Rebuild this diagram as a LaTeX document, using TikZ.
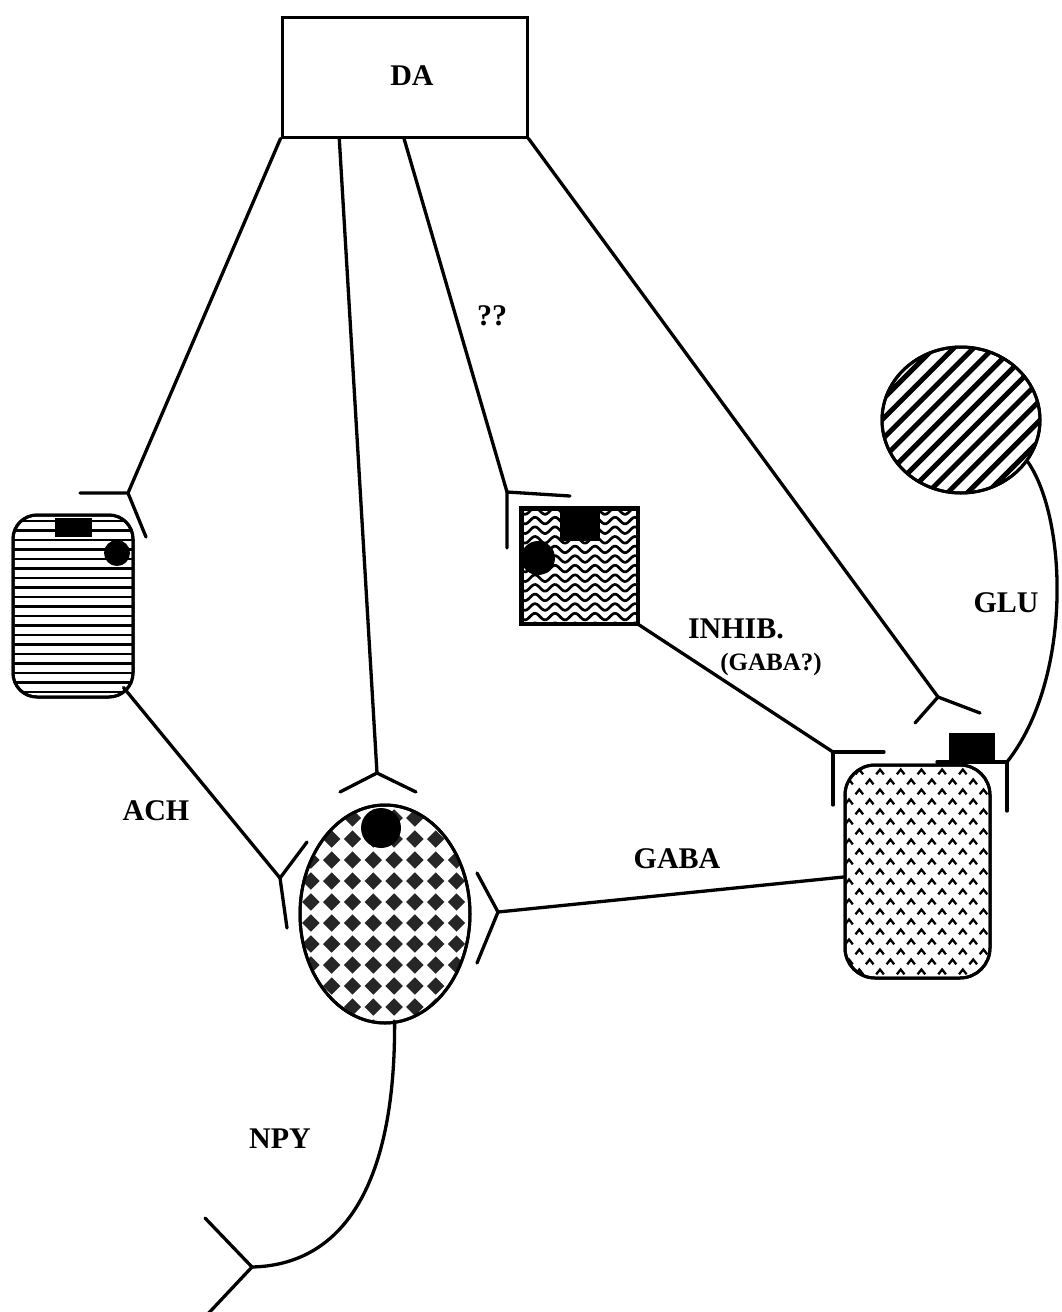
\documentclass[tikz,border=0pt]{standalone}
\usepackage{fontspec}
\setmainfont{Liberation Serif}
\usetikzlibrary{patterns.meta,calc,shapes.geometric}
\begin{document}
\begin{tikzpicture}[x=1pt,y=-1pt,
  wire/.style={line width=3.3pt, line cap=round},
  cellborder/.style={draw, line width=3pt, inner sep=0pt},
  lbl/.style={font=\fontsize{30}{34}\selectfont\bfseries, inner sep=0pt, anchor=base},
  lblsmall/.style={font=\fontsize{25}{30}\selectfont\bfseries, inner sep=0pt, anchor=base},
]
\useasboundingbox (0,0) rectangle (1061,1312);

% DA box
\node[cellborder, minimum width=245pt, minimum height=120pt] (da) at (404.5,77) {};
\node[lbl] (daL) at (412,85) {DA};

% left cell (horizontal lines)
\node[cellborder, rounded corners=24pt, minimum width=120pt, minimum height=182pt] (lc) at (73,606) {};
\begin{scope}
  \clip[rounded corners=24pt] (13,515) rectangle (133,697);
  \foreach \k in {0,...,19}
    \draw[line width=2.4pt] (10,{521+9.5*\k}) -- (140,{521+9.5*\k});
\end{scope}
\draw[line width=3pt, rounded corners=24pt] (13,515) rectangle (133,697);
\fill (55,518) rectangle (92,537);
\fill (117,553) circle[radius=13pt];

% square cell (waves)
\node[cellborder, minimum width=115pt, minimum height=114pt] (sq) at (579.5,566) {};
\begin{scope}
  \clip (sq.south west) rectangle (sq.north east);
  \foreach \k in {0,...,12}
    \draw[line width=2.7pt] plot[domain=515:645, samples=90, smooth] (\x, {511+\k*9.6+3.3*sin(18*\x)});
\end{scope}
\draw[line width=3pt] (sq.south west) rectangle (sq.north east);
\fill (560,509) rectangle (600,541);
\fill (538,558) circle[radius=17pt];

% ellipse cell (diamonds)
\node[cellborder, ellipse, minimum width=170pt, minimum height=218pt] (el) at (385,914) {};
\begin{scope}
  \clip (385,914) ellipse [x radius=85, y radius=109];
  \foreach \i in {0,...,8}
    \foreach \j in {0,...,11} {
      \pgfmathsetmacro\cx{290.1+20.8*\i}
      \pgfmathsetmacro\cy{797+21*\j}
      \fill[black!85] (\cx,\cy-8.7) -- (\cx+8.7,\cy) -- (\cx,\cy+8.7) -- (\cx-8.7,\cy) -- cycle;
    }
\end{scope}
\draw[line width=3pt] (el.center) ellipse [x radius=85, y radius=109];
\fill (381,828) circle[radius=20pt];

% right cell (chevrons)
\node[cellborder, rounded corners=30pt, minimum width=145pt, minimum height=213pt] (rc) at (917.5,871.5) {};
\begin{scope}
  \clip[rounded corners=30pt] (845,765) rectangle (990,978);
  \foreach \j in {0,...,20} {
    \pgfmathsetmacro\cy{771.7+10*\j}
    \pgfmathsetmacro\ph{mod(\j,2)==0 ? 880 : 869.7}
    \foreach \i in {-2,...,6} {
      \pgfmathsetmacro\cx{\ph+20.7*\i}
      \draw[line width=2.3pt] (\cx-3.8,\cy+2.6) -- (\cx,\cy-2.2) -- (\cx+3.8,\cy+2.6);
    }
  }
\end{scope}
\draw[line width=3pt, rounded corners=30pt] (845,765) rectangle (990,978);
\fill (949,733) rectangle (995,763);

% GLU cell (diagonal stripes)
\node[cellborder, ellipse, minimum width=158pt, minimum height=146pt] (gl) at (961,420) {};
\begin{scope}
  \clip (961,420) ellipse [x radius=79, y radius=73];
  \foreach \k in {-12,...,12}
    \draw[line width=5pt] ({961+19.8*\k-100},520) -- ({961+19.8*\k+100},320);
\end{scope}
\draw[line width=3pt] (961,420) ellipse [x radius=79, y radius=73];

% synapse points
\coordinate (s1) at (128,493);
\coordinate (s2) at (377,773);
\coordinate (s3) at (507,492);
\coordinate (s4) at (938,697);
\coordinate (s5) at (280,878);
\coordinate (s6) at (833,752);
\coordinate (s7) at (498,912);
\coordinate (s8) at (1007,762);
\coordinate (s9) at (252,1267);

% DA projections
\draw[wire] (da.south west) -- (s1);
\draw[wire] (s1) -- ++(-48,0) (s1) -- ++(18,44);
\draw[wire] ($(da.south west)!0.237!(da.south east)$) -- (s2);
\draw[wire] (s2) -- ++(-37,19) (s2) -- ++(39,19);
\draw[wire] ($(da.south west)!0.498!(da.south east)$) -- (s3);
\draw[wire] (s3) -- ++(63,4) (s3) -- ++(0,56);
\draw[wire] (da.south east) -- (s4);
\draw[wire] (s4) -- ++(-23,26) (s4) -- ++(42,16);

% ACH
\draw[wire] ($(lc.south east)+(-11,-11)$) -- (s5);
\draw[wire] (s5) -- ++(27,-36) (s5) -- ++(7,50);
% INHIB
\draw[wire] (sq.south east) -- (s6);
\draw[wire] (s6) -- ++(51,0) (s6) -- ++(0,53);
% GABA
\draw[wire] ($(rc.west)+(0,5.5)$) -- (s7);
\draw[wire] (s7) -- ++(-21,-39) (s7) -- ++(-21,51);
% GLU
\draw[wire] (gl.-32) .. controls (1068,520) and (1072,680) .. (s8);
\draw[wire] (s8) -- ++(-70,0) (s8) -- ++(0,49);
% NPY
\draw[wire] (el.-85) .. controls (395,1190) and (340,1265) .. (s9);
\draw[wire] (s9) -- ++(-47,-49) (s9) -- ++(-47,50);

% labels
\node[lbl] (qq) at (492,325) {??};
\node[lbl] (inh) at (736,638) {INHIB.};
\node[lblsmall] (gq) at (771,670) {(GABA?)};
\node[lbl] (glu) at (1006,612) {GLU};
\node[lbl] (ach) at (156,820) {ACH};
\node[lbl] (gaba) at (677,868) {GABA};
\node[lbl] (npy) at (280,1148) {NPY};
\end{tikzpicture}
\end{document}
